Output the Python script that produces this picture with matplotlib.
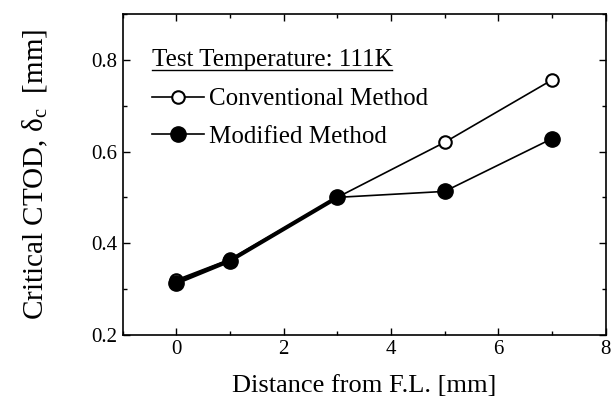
"""Critical CTOD vs distance from fusion line"""

import matplotlib
matplotlib.use("Agg")
import matplotlib.pyplot as plt
from matplotlib.ticker import MultipleLocator

# data
distance = [0, 1, 3, 5, 7]
conventional = [0.32, 0.365, 0.50, 0.62, 0.756]
modified = [0.314, 0.362, 0.50, 0.513, 0.628]

title_text = "Test Temperature: 111K"
labels = ["Conventional Method", "Modified Method"]

plt.rcParams["font.family"] = ["Liberation Serif", "DejaVu Serif"]
plt.rcParams["mathtext.fontset"] = "custom"
plt.rcParams["mathtext.rm"] = "Liberation Serif"
plt.rcParams["mathtext.it"] = "Liberation Serif:italic"

fig = plt.figure(figsize=(6.13, 4.09), dpi=100)
ax = fig.add_axes([0.200, 0.181, 0.788, 0.785])

# conventional method: open circles
ax.plot(distance, conventional, color="black", lw=1.2, marker="o", ms=9,
        mfc="white", mec="black", mew=1.5, label=labels[0], zorder=2)
# modified method: filled circles
ax.plot(distance, modified, color="black", lw=1.2, marker="o", ms=11,
        mfc="black", mec="black", label=labels[1], zorder=3)
# the shared segment appears heavier
ax.plot(distance[:3], modified[:3], color="black", lw=3, zorder=1)

ax.set_xlim(-1, 8)
ax.set_ylim(0.2, 0.9)
ax.xaxis.set_major_locator(MultipleLocator(2))
ax.xaxis.set_minor_locator(MultipleLocator(1))
ax.yaxis.set_major_locator(MultipleLocator(0.2))
ax.yaxis.set_minor_locator(MultipleLocator(0.1))
ax.tick_params(which="both", direction="in", top=True, right=True,
               labelsize=15, width=1)
ax.tick_params(which="major", length=5)
ax.tick_params(which="minor", length=3)
ax.set_yticks([0.2, 0.4, 0.6, 0.8])
ax.set_yticklabels(["0.2", "0.4", "0.6", "0.8"])
for s in ax.spines.values():
    s.set_linewidth(1.2)

ax.set_xlabel("Distance from F.L. [mm]", fontsize=19, labelpad=12)
ax.set_ylabel(r"Critical CTOD, $\mathrm{\delta}_{\mathrm{c}}$  [mm]",
              fontsize=21, labelpad=30)

# underlined title of the legend
title = ax.text(0.06, 0.838, title_text, transform=ax.transAxes,
                fontsize=18, ha="left", va="baseline")
fig.canvas.draw()
bb = title.get_window_extent().transformed(ax.transAxes.inverted())
ax.plot([bb.x0, bb.x1], [0.826, 0.826], transform=ax.transAxes,
        color="black", lw=1, clip_on=False)

ax.legend(loc="upper left", frameon=False, fontsize=18,
          handlelength=2.1, handletextpad=0.2, labelspacing=0.6,
          borderaxespad=0, borderpad=0, bbox_to_anchor=(0.06, 0.77))

fig.savefig("out.png", dpi=100)
